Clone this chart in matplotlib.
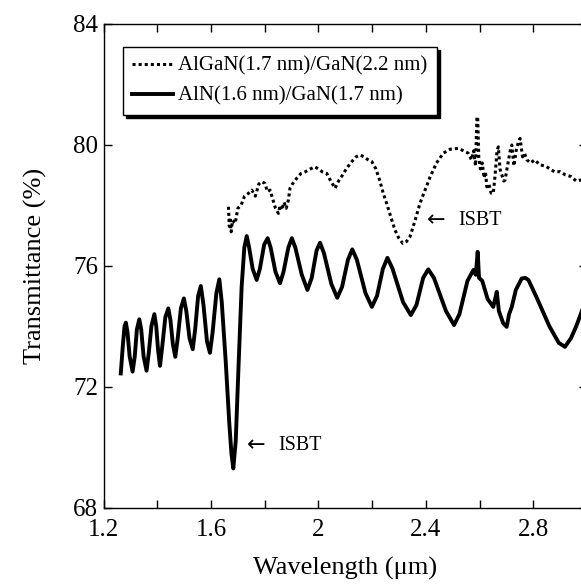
import matplotlib.pyplot as plt
from matplotlib.ticker import MultipleLocator

plt.rcParams['font.family'] = ['Liberation Serif', 'DejaVu Serif']

# AlN(1.6 nm)/GaN(1.7 nm) - solid curve
aln_wl = [1.264, 1.272, 1.278, 1.283, 1.289, 1.297, 1.308, 1.316, 1.324, 1.333,
          1.340, 1.349, 1.360, 1.368, 1.378, 1.389, 1.396, 1.403, 1.410, 1.418,
          1.430, 1.441, 1.449, 1.458, 1.467, 1.476, 1.488, 1.499, 1.508, 1.520,
          1.532, 1.541, 1.552, 1.562, 1.572, 1.585, 1.596, 1.606, 1.620, 1.631,
          1.640, 1.655, 1.668, 1.676, 1.683, 1.692, 1.703, 1.714, 1.724, 1.733,
          1.742, 1.755, 1.770, 1.782, 1.798, 1.811, 1.822, 1.840, 1.857, 1.870,
          1.888, 1.901, 1.914, 1.938, 1.959, 1.975, 1.993, 2.006, 2.021, 2.048,
          2.070, 2.088, 2.110, 2.126, 2.143, 2.175, 2.199, 2.218, 2.240, 2.257,
          2.276, 2.315, 2.344, 2.365, 2.390, 2.409, 2.430, 2.475, 2.505, 2.525,
          2.555, 2.577, 2.586, 2.593, 2.598, 2.610, 2.630, 2.651, 2.658, 2.664,
          2.672, 2.688, 2.701, 2.710, 2.720, 2.735, 2.757, 2.770, 2.782, 2.810,
          2.860, 2.895, 2.918, 2.940, 2.960, 2.985]
aln_tr = [72.44, 73.4, 74.0, 74.12, 73.8, 73.0, 72.50, 73.0, 73.9, 74.23,
          73.9, 73.0, 72.53, 73.1, 74.0, 74.40, 74.0, 73.2, 72.69, 73.3,
          74.3, 74.59, 74.2, 73.4, 72.99, 73.6, 74.6, 74.92, 74.5, 73.6,
          73.24, 73.9, 75.0, 75.33, 74.7, 73.5, 73.12, 73.8, 75.1, 75.55,
          74.8, 72.8, 70.8, 69.8, 69.30, 70.2, 72.8, 75.3, 76.6, 76.98,
          76.6, 75.9, 75.53, 75.9, 76.7, 76.91, 76.6, 75.8, 75.42, 75.8,
          76.6, 76.91, 76.6, 75.7, 75.20, 75.6, 76.5, 76.76, 76.4, 75.4,
          74.94, 75.3, 76.2, 76.54, 76.2, 75.1, 74.64, 75.0, 75.9, 76.26,
          75.9, 74.8, 74.37, 74.7, 75.6, 75.88, 75.6, 74.5, 74.04, 74.4,
          75.5, 75.86, 75.7, 76.46, 75.6, 75.5, 74.9, 74.64, 74.9, 75.14,
          74.5, 74.1, 73.98, 74.4, 74.64, 75.2, 75.58, 75.6, 75.53, 75.0,
          74.0, 73.45, 73.32, 73.6, 74.0, 74.6]

# AlGaN(1.7 nm)/GaN(2.2 nm) - dotted curve
algan_wl = [1.665, 1.668, 1.671, 1.675, 1.680, 1.690, 1.700, 1.712, 1.725, 1.739,
            1.752, 1.765, 1.778, 1.789, 1.801, 1.810, 1.820, 1.830, 1.840, 1.851,
            1.857, 1.863, 1.872, 1.880, 1.888, 1.894, 1.903, 1.919, 1.935, 1.950,
            1.970, 1.987, 2.000, 2.015, 2.031, 2.046, 2.062, 2.075, 2.090, 2.105,
            2.125, 2.140, 2.155, 2.170, 2.185, 2.199, 2.214, 2.229, 2.241, 2.254,
            2.270, 2.285, 2.300, 2.314, 2.328, 2.341, 2.360, 2.378, 2.397, 2.416,
            2.440, 2.465, 2.490, 2.521, 2.540, 2.558, 2.570, 2.578, 2.585, 2.590,
            2.593, 2.597, 2.603, 2.610, 2.617, 2.622, 2.627, 2.635, 2.643, 2.651,
            2.658, 2.665, 2.670, 2.676, 2.683, 2.690, 2.695, 2.702, 2.710, 2.716,
            2.720, 2.728, 2.736, 2.745, 2.751, 2.760, 2.768, 2.776, 2.790, 2.805,
            2.825, 2.845, 2.862, 2.880, 2.900, 2.920, 2.940, 2.960, 2.985]
algan_tr = [77.95, 77.3, 77.6, 77.12, 77.5, 77.4, 77.9, 78.0, 78.3, 78.39,
            78.5, 78.3, 78.7, 78.78, 78.72, 78.45, 78.5, 78.2, 77.9, 77.73,
            78.0, 77.84, 78.1, 77.9, 78.17, 78.56, 78.7, 78.89, 79.05, 79.1,
            79.2, 79.27, 79.2, 79.1, 79.05, 78.8, 78.56, 78.8, 79.0, 79.22,
            79.45, 79.6, 79.66, 79.6, 79.5, 79.44, 79.2, 78.8, 78.4, 78.06,
            77.6, 77.18, 76.9, 76.74, 76.8, 76.96, 77.5, 78.06, 78.5, 78.94,
            79.4, 79.72, 79.85, 79.88, 79.8, 79.72, 79.5, 79.8, 79.3, 80.9,
            80.93, 79.6, 79.2, 79.4, 78.9, 79.1, 78.61, 78.7, 78.4, 78.39,
            79.0, 79.8, 79.93, 79.2, 79.0, 78.8, 78.83, 79.2, 79.6, 79.9,
            79.99, 79.3, 79.8, 80.1, 80.21, 79.6, 79.7, 79.50, 79.4, 79.5,
            79.33, 79.3, 79.2, 79.1, 79.11, 79.0, 78.95, 78.8, 78.85]

fig = plt.figure(figsize=(5.81, 5.87), dpi=100)
ax = fig.add_axes([0.1783, 0.135, 0.832, 0.8246])

ax.plot(algan_wl, algan_tr, color='black', lw=2.2, linestyle=(0, (1, 1)),
        dash_capstyle='butt', label='AlGaN(1.7 nm)/GaN(2.2 nm)')
ax.plot(aln_wl, aln_tr, color='black', lw=2.8, solid_joinstyle='round',
        label='AlN(1.6 nm)/GaN(1.7 nm)')

ax.set_xlim(1.2, 3.0)
ax.set_ylim(68, 84)
ax.xaxis.set_major_locator(MultipleLocator(0.4))
ax.xaxis.set_minor_locator(MultipleLocator(0.2))
ax.yaxis.set_major_locator(MultipleLocator(4))
ax.xaxis.set_major_formatter(plt.FuncFormatter(lambda v, p: ('%.1f' % v).rstrip('0').rstrip('.')))
ax.tick_params(which='both', direction='in', length=6, width=1, top=True, right=True,
               labelsize=18)
ax.tick_params(axis='x', pad=8)
ax.tick_params(axis='y', pad=4)
for s in ax.spines.values():
    s.set_linewidth(1)

ax.set_xlabel('Wavelength (μm)', fontsize=19)
ax.set_ylabel('Transmittance (%)', fontsize=19)
ax.xaxis.set_label_coords(0.5, -0.102)
ax.yaxis.set_label_coords(-0.118, 0.5)

# ISBT markers
ax.text(2.405, 77.51, '←', fontsize=16, family='DejaVu Sans', va='center', ha='left')
ax.text(2.52, 77.51, 'ISBT', fontsize=14.5, va='center', ha='left')
ax.text(1.735, 70.07, '←', fontsize=16, family='DejaVu Sans', va='center', ha='left')
ax.text(1.852, 70.07, 'ISBT', fontsize=14.5, va='center', ha='left')

leg = ax.legend(loc='upper left', bbox_to_anchor=(0.04, 0.952), borderaxespad=0,
                fontsize=15, handlelength=1.95, handletextpad=0.25, labelspacing=0.5,
                borderpad=0.45, fancybox=False, edgecolor='black', framealpha=1,
                shadow={'color': 'black', 'alpha': 1, 'ox': 2.2, 'oy': -2.2})
leg.get_frame().set_linewidth(1)

fig.savefig('out.png', dpi=100)
